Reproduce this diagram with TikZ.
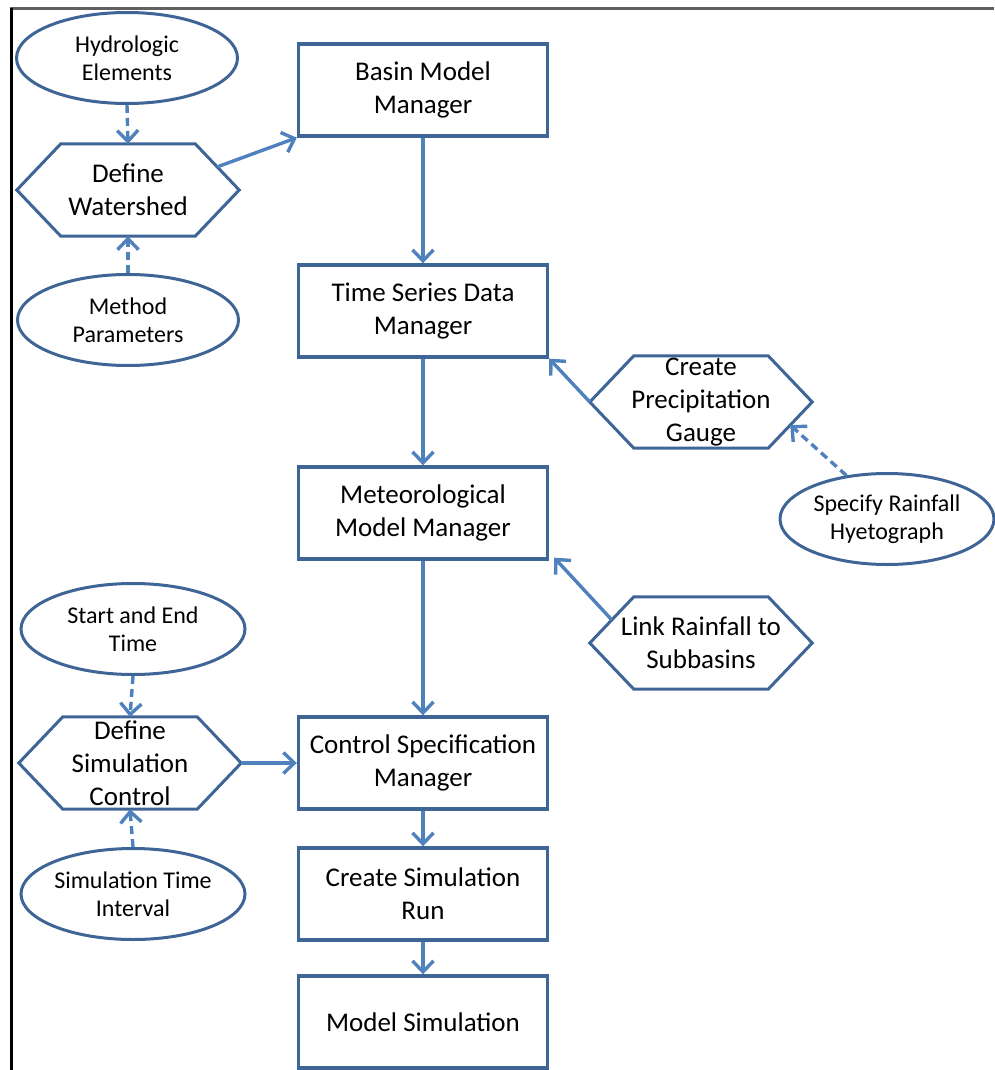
\documentclass[tikz,border=0pt]{standalone}
\usepackage{fontspec}
\setmainfont{Carlito}
\usetikzlibrary{arrows.meta,shapes.geometric,calc}
\definecolor{edgeblue}{RGB}{63,100,150}
\definecolor{flowblue}{RGB}{79,129,189}
\definecolor{framegray}{RGB}{96,96,96}

% hexagon outline around a (borderless) node, corners cut by #2
\newcommand\hexoutline[2]{%
  \draw[edgeblue,line width=3pt,line join=miter]
    (#1.west) -- ([xshift=#2]#1.north west) -- ([xshift=-#2]#1.north east)
    -- (#1.east) -- ([xshift=-#2]#1.south east) -- ([xshift=#2]#1.south west) -- cycle;}

\begin{document}
\begin{tikzpicture}[x=1pt,y=-1pt,
  box/.style={draw=edgeblue, line width=3.4pt, minimum width=249pt, minimum height=92pt,
    inner sep=0pt, align=center, font=\fontsize{27}{33}\selectfont},
  oval/.style={ellipse, draw=edgeblue, line width=3pt, minimum width=221pt, minimum height=91pt,
    inner sep=0pt, align=center, font=\fontsize{24}{28}\selectfont},
  hexa/.style={minimum width=222pt, minimum height=92pt, inner sep=0pt, align=center,
    font=\fontsize{27}{33}\selectfont},
  flow/.style={draw=flowblue, line width=3.4pt,
    -{Straight Barb[length=11pt,width=21pt,line width=3.4pt]}},
  dflow/.style={flow, dash pattern=on 8pt off 5pt},
]
\useasboundingbox (0,0) rectangle (994,1070);

% page frame
\draw[framegray, line width=3pt] (10,9) -- (994,9);
\draw[black, line width=3pt] (11,8) -- (11,1070);

% main column
\node[box] (basin) at (423,90)  {Basin Model\\Manager};
\node[box] (tsd)   at (423,311) {Time Series Data\\Manager};
\node[box] (met)   at (423,513) {Meteorological\\Model Manager};
\node[box] (css)   at (423,763) {Control Specification\\Manager};
\node[box] (csr)   at (423,894) {Create Simulation\\Run};
\node[box] (msim)  at (423,1022) {Model Simulation};

% watershed definition
\node[oval] (hyd)  at (127,58)  {Hydrologic\\Elements};
\node[hexa] (ws)   at (128,190) {Define\\Watershed};
\hexoutline{ws}{44pt}
\node[oval] (meth) at (128,320) {Method\\Parameters};

% precipitation input
\node[hexa] (gauge) at (701,402) {Create\\Precipitation\\Gauge};
\hexoutline{gauge}{44pt}
\node[oval, minimum width=214pt] (hyet) at (887,519) {Specify Rainfall\\Hyetograph};
\node[hexa] (link) at (701,643) {Link Rainfall to\\Subbasins};
\hexoutline{link}{44pt}

% simulation control
\node[oval, minimum width=224pt] (start) at (133,629) {Start and End\\Time};
\node[hexa] (dsc) at (130,763) {Define\\Simulation\\Control};
\hexoutline{dsc}{44pt}
\node[oval, minimum width=224pt] (sti) at (133,894) {Simulation Time\\Interval};

% connectors
\draw[flow] (basin.south) -- (tsd.north);
\draw[flow] (tsd.south) -- (met.north);
\draw[flow] (met.south) -- (css.north);
\draw[flow] (css.south) -- (csr.north);
\draw[flow] (csr.south) -- (msim.north);

\draw[dflow] (hyd.south) -- (ws.north);
\draw[dflow] (meth.north) -- (ws.south);
\draw[flow] ($(ws.east)!0.5!([xshift=-44pt]ws.north east)$) -- (basin.south west);

\draw[flow] (gauge.west) -- (tsd.south east);
\draw[dflow] (hyet.133) -- ($(gauge.east)!0.5!([xshift=-44pt]gauge.south east)$);
\draw[flow] ($(link.west)!0.5!([xshift=44pt]link.north west)$) -- ([shift={(5pt,3pt)}]met.south east);

\draw[dflow] (start.south) -- (dsc.north);
\draw[dflow] (sti.north) -- (dsc.south);
\draw[flow] (dsc.east) -- (css.west);
\end{tikzpicture}
\end{document}
